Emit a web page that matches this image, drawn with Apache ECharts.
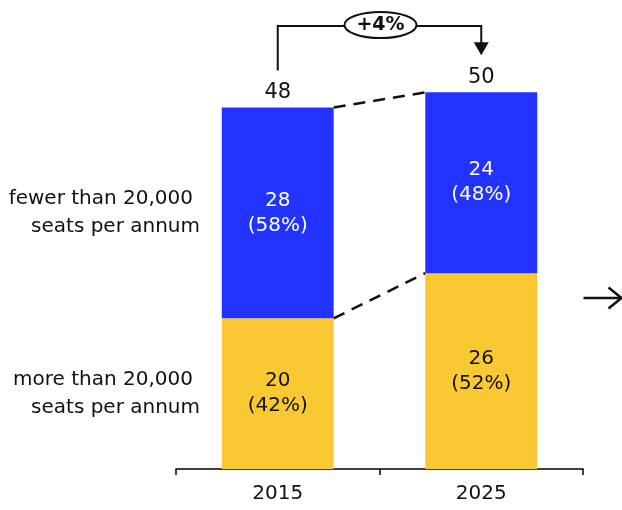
<!DOCTYPE html>
<html><head><meta charset="utf-8">
<script src="https://cdn.jsdelivr.net/npm/echarts@6/dist/echarts.min.js"></script>
<style>html,body{margin:0;padding:0;background:#fff}#c{width:622px;height:510px}</style>
</head><body><div id="c"></div>
<script>
const categories = ['2015', '2025'];
const seriesNames = ['more than 20,000\nseats per annum', 'fewer than 20,000\nseats per annum'];
const moreThan = [20, 26];
const fewerThan = [28, 24];
const growthLabel = '+4%';

const totals = moreThan.map((v, i) => v + fewerThan[i]);
const pct = (v, t) => Math.round(v / t * 100) + '%';
const FONT = '"DejaVu Sans", Verdana, sans-serif';
const BLUE = '#2233FF', YELLOW = '#F9C833';
const BARW = 0.55;

const chart = echarts.init(document.getElementById('c'));

function barEdges(api, idx, val) {
  const p = api.coord([idx, val]);
  const bw = api.size([1, 0])[0] * BARW;
  return { cx: p[0], y: p[1], l: p[0] - bw / 2, r: p[0] + bw / 2 };
}

chart.setOption({
  animation: false,
  grid: { left: 176, right: 39, top: 17, bottom: 41 },
  xAxis: {
    type: 'category', data: categories,
    axisLine: { lineStyle: { color: '#000', width: 1.5 } },
    axisTick: { show: true, length: 6, lineStyle: { color: '#000', width: 1.5 } },
    axisLabel: { color: '#111', fontSize: 20, fontFamily: FONT, margin: 15 }
  },
  yAxis: { type: 'value', min: 0, max: 60, show: false, splitLine: { show: false } },
  series: [
    {
      name: seriesNames[0], type: 'bar', stack: 'a', barWidth: (BARW * 100) + '%',
      data: moreThan, itemStyle: { color: YELLOW },
      label: { show: true, position: 'inside', color: '#111', fontSize: 20, fontFamily: FONT, lineHeight: 25,
        formatter: p => p.value + '\n(' + pct(p.value, totals[p.dataIndex]) + ')' }
    },
    {
      name: seriesNames[1], type: 'bar', stack: 'a', barWidth: (BARW * 100) + '%',
      data: fewerThan, itemStyle: { color: BLUE },
      label: { show: true, position: 'inside', color: '#fff', fontSize: 20, fontFamily: FONT, lineHeight: 25,
        formatter: p => p.value + '\n(' + pct(p.value, totals[p.dataIndex]) + ')' }
    },
    {
      // totals above bars
      type: 'custom', data: totals.map((t, i) => [i, t]),
      renderItem: (params, api) => {
        const e = barEdges(api, api.value(0), api.value(1));
        return { type: 'text', style: { text: String(api.value(1)), x: e.cx, y: e.y - 4, align: 'center', verticalAlign: 'bottom',
          fill: '#111', font: '21px ' + FONT } };
      }
    },
    {
      // dashed connectors between bars
      type: 'custom', data: [[moreThan[0], moreThan[1]], [totals[0], totals[1]]],
      renderItem: (params, api) => {
        const a = barEdges(api, 0, api.value(0));
        const b = barEdges(api, 1, api.value(1));
        return { type: 'line', shape: { x1: a.r, y1: a.y, x2: b.l, y2: b.y },
          style: { stroke: '#111', lineWidth: 2.5, lineDash: [12, 8] } };
      }
    },
    {
      // left-side series labels
      type: 'custom', data: [[0, 0, moreThan[0], 0], [0, moreThan[0], totals[0], 1]],
      renderItem: (params, api) => {
        const y0 = api.coord([0, api.value(1)])[1];
        const y1 = api.coord([0, api.value(2)])[1];
        const ym = (y0 + y1) / 2;
        const lines = seriesNames[api.value(3)].split('\n');
        return { type: 'group', children: [
          { type: 'text', style: { text: lines[0], x: 193, y: ym - 14, align: 'right', verticalAlign: 'middle', fill: '#111', font: '20px ' + FONT } },
          { type: 'text', style: { text: lines[1], x: 200, y: ym + 14, align: 'right', verticalAlign: 'middle', fill: '#111', font: '20px ' + FONT } }
        ] };
      }
    },
    {
      // growth bracket
      type: 'custom', data: [[0, totals[0], totals[1]]],
      renderItem: (params, api) => {
        const a = barEdges(api, 0, api.value(1));
        const b = barEdges(api, 1, api.value(2));
        const topY = 26;
        const aBot = a.y - 37, bBot = b.y - 37;
        const mx = (a.cx + b.cx) / 2;
        return { type: 'group', children: [
          { type: 'polyline', shape: { points: [[a.cx, aBot], [a.cx, topY], [b.cx, topY], [b.cx, bBot - 12]] },
            style: { stroke: '#111', lineWidth: 2, fill: null } },
          { type: 'polygon', shape: { points: [[b.cx - 7.5, bBot - 13], [b.cx + 7.5, bBot - 13], [b.cx, bBot]] },
            style: { fill: '#111' } },
          { type: 'ellipse', shape: { cx: mx + 1, cy: topY - 1, rx: 36, ry: 13 },
            style: { fill: '#fff', stroke: '#111', lineWidth: 2 } },
          { type: 'text', style: { text: growthLabel, x: mx + 1, y: topY - 1, align: 'center', verticalAlign: 'middle',
            fill: '#111', font: 'bold 19px ' + FONT } }
        ] };
      }
    }
  ],
  graphic: [
    { type: 'group', left: 581, top: 285, children: [
      { type: 'line', shape: { x1: 0, y1: 11.5, x2: 37, y2: 11.5 }, style: { stroke: '#111', lineWidth: 2.5 } },
      { type: 'polyline', shape: { points: [[25, 1], [38, 11.5], [25, 22]] }, style: { stroke: '#111', lineWidth: 2.5, fill: null } }
    ] }
  ]
});
</script></body></html>
